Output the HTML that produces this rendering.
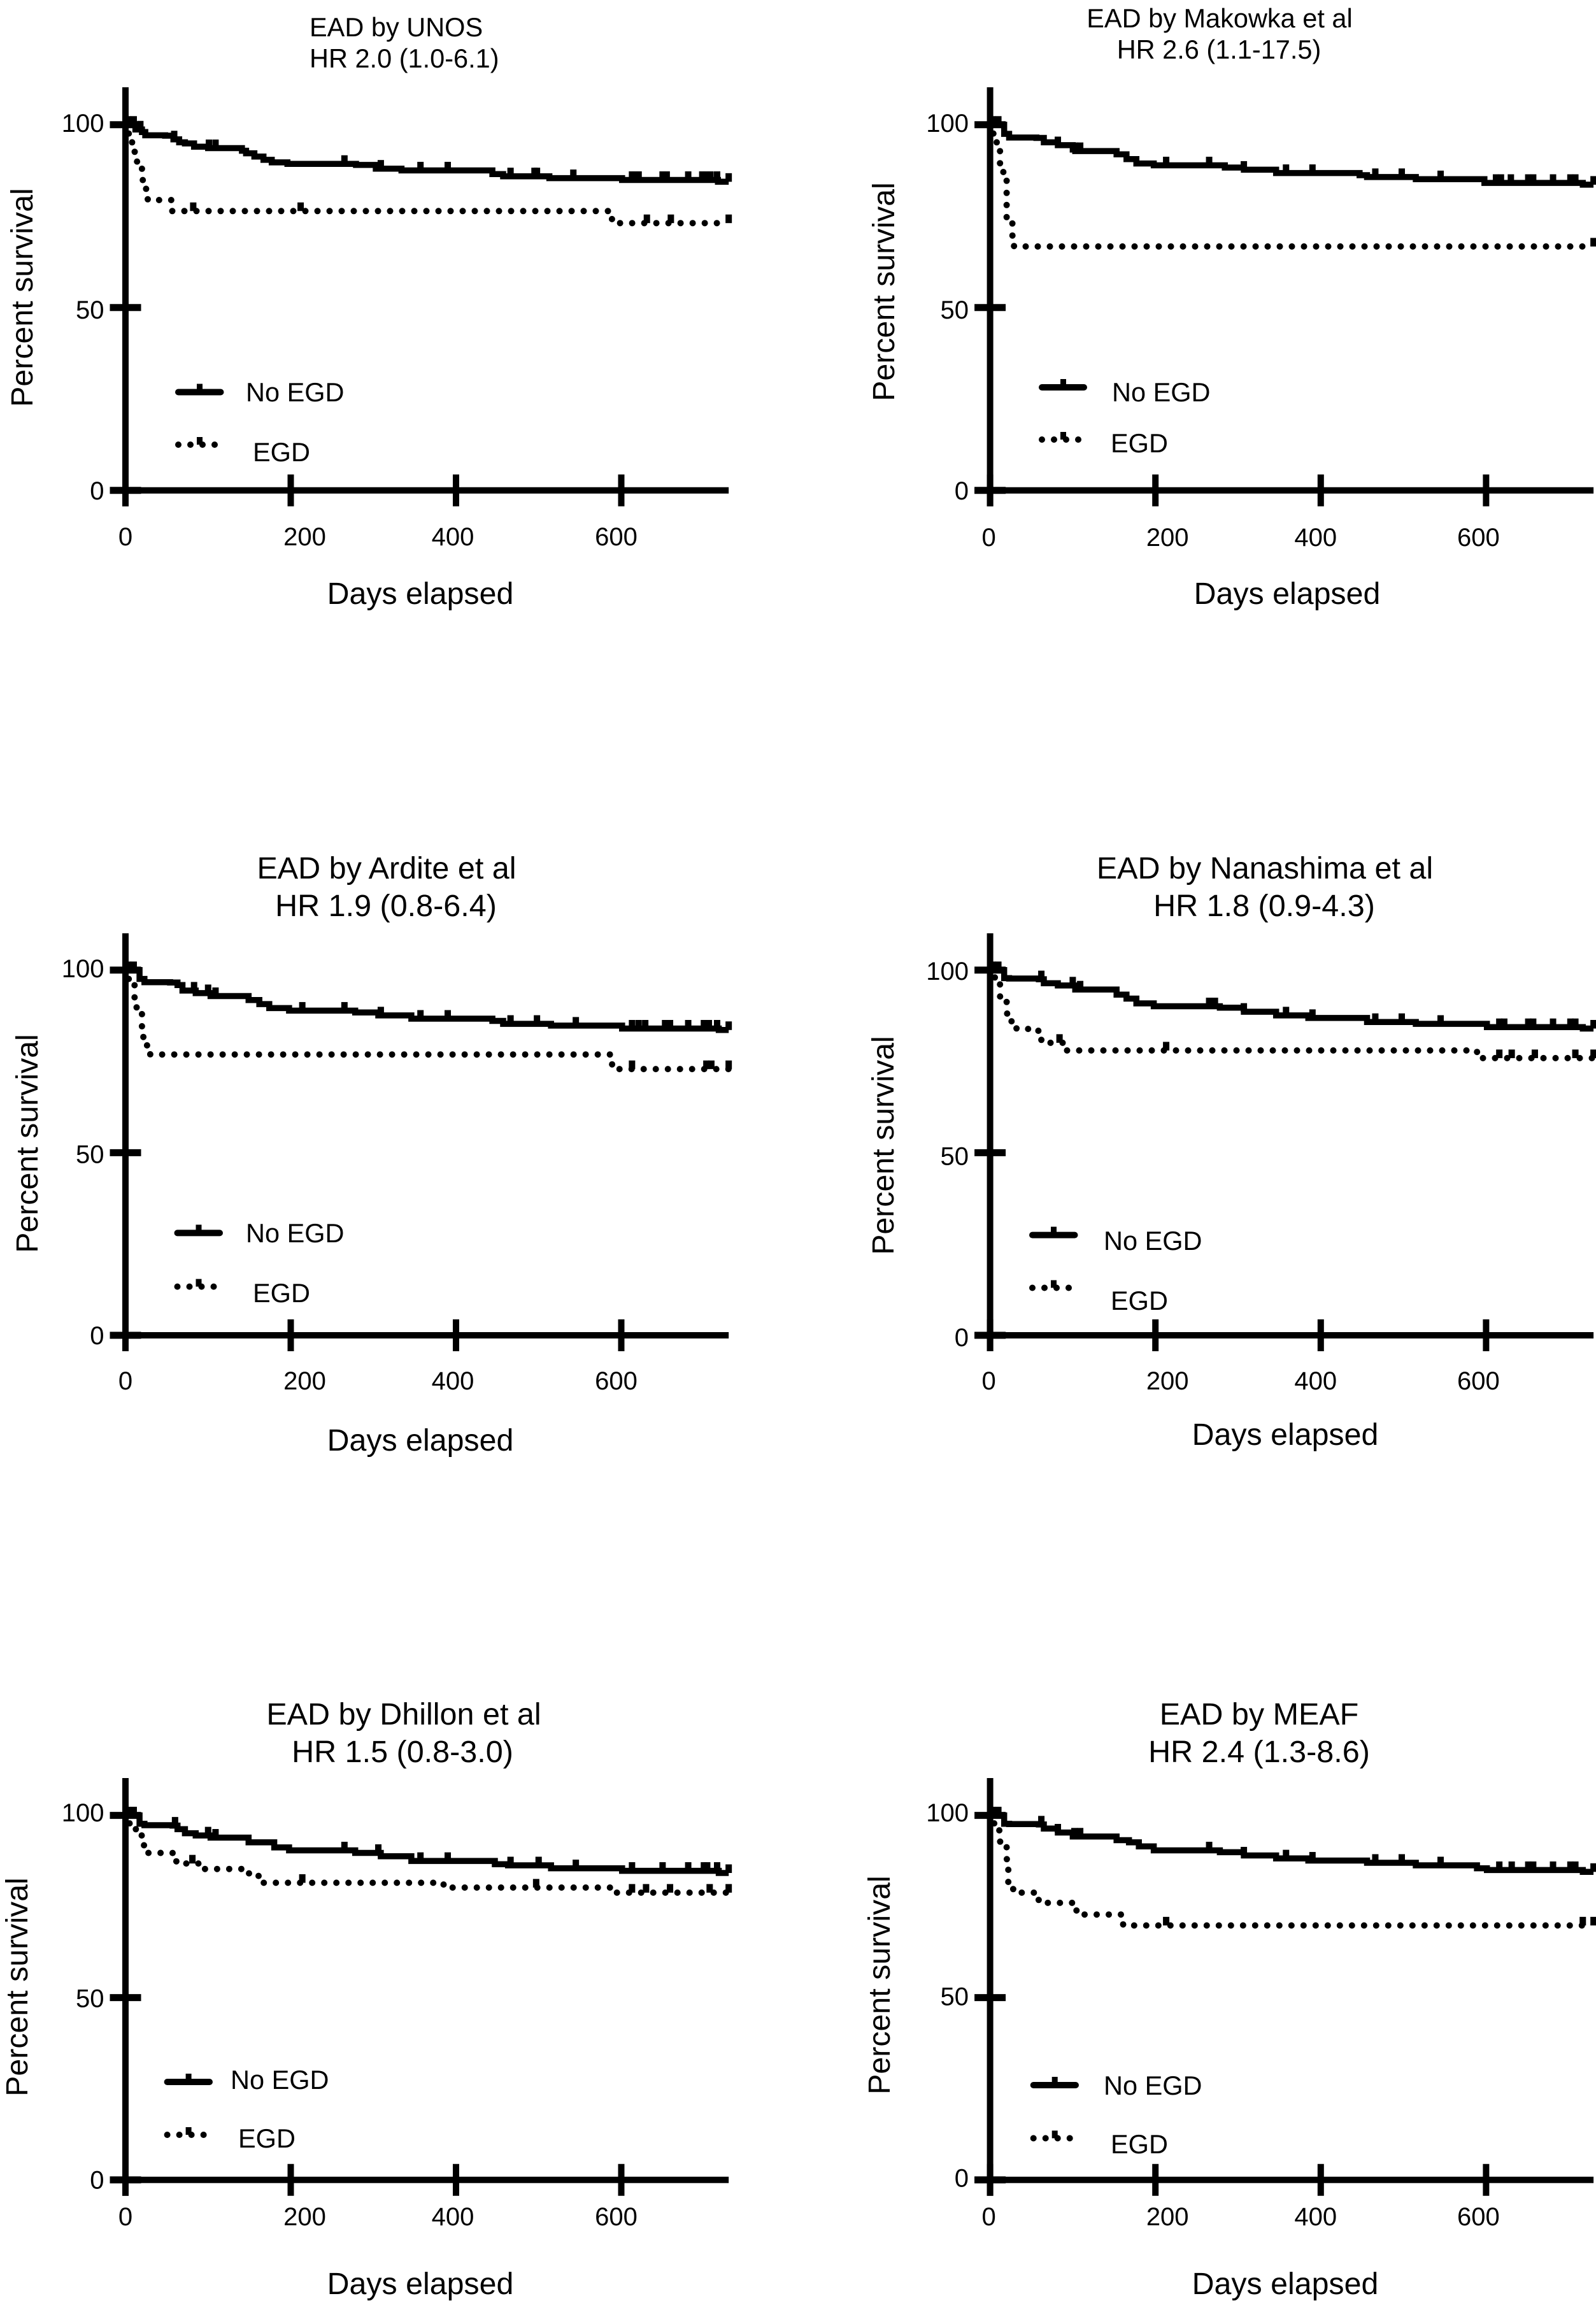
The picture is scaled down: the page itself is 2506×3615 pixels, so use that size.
<!DOCTYPE html>
<html lang="en">
<head>
<meta charset="utf-8">
<title>EAD survival curves by EGD status</title>
<style>
html,body{margin:0;padding:0;background:#fff;}
svg{display:block;}
text{font-family:"Liberation Sans",Arial,sans-serif;fill:#000;}
.title{font-size:48.5px;}
.title-small{font-size:41.5px;}
.axis-title{font-size:48.3px;}
.legend-text{font-size:41.5px;}
.tick-label{font-size:40px;}
</style>
</head>
<body>
<svg id="figure" xmlns="http://www.w3.org/2000/svg" width="2506" height="3615" viewBox="0 0 2506 3615">
  <rect x="0" y="0" width="2506" height="3615" fill="#fff"/>

  <g id="panel-unos">
    <text class="title-small" x="486" y="57">EAD by UNOS</text>
    <text class="title-small" x="486" y="106">HR 2.0 (1.0-6.1)</text>
    <text class="axis-title" text-anchor="middle" transform="translate(51 467) rotate(-90)">Percent survival</text>
    <text class="axis-title" text-anchor="middle" x="660" y="948">Days elapsed</text>
    <text class="legend-text" x="386" y="630">No EGD</text>
    <text class="legend-text" x="397" y="724">EGD</text>
  </g>

  <g id="panel-makowka">
    <text class="title-small" text-anchor="middle" x="1915" y="43">EAD by Makowka et al</text>
    <text class="title-small" text-anchor="middle" x="1914" y="92">HR 2.6 (1.1-17.5)</text>
    <text class="axis-title" text-anchor="middle" transform="translate(1404 458) rotate(-90)">Percent survival</text>
    <text class="axis-title" text-anchor="middle" x="2021" y="948">Days elapsed</text>
    <text class="legend-text" x="1746" y="630">No EGD</text>
    <text class="legend-text" x="1744" y="710">EGD</text>
  </g>

  <g id="panel-ardite">
    <text class="title" text-anchor="middle" x="607" y="1379">EAD by Ardite et al</text>
    <text class="title" text-anchor="middle" x="606" y="1438">HR 1.9 (0.8-6.4)</text>
    <text class="axis-title" text-anchor="middle" transform="translate(59 1795) rotate(-90)">Percent survival</text>
    <text class="axis-title" text-anchor="middle" x="660" y="2277">Days elapsed</text>
    <text class="legend-text" x="386" y="1950">No EGD</text>
    <text class="legend-text" x="397" y="2044">EGD</text>
  </g>

  <g id="panel-nanashima">
    <text class="title" text-anchor="middle" x="1986" y="1379">EAD by Nanashima et al</text>
    <text class="title" text-anchor="middle" x="1985" y="1438">HR 1.8 (0.9-4.3)</text>
    <text class="axis-title" text-anchor="middle" transform="translate(1403 1798) rotate(-90)">Percent survival</text>
    <text class="axis-title" text-anchor="middle" x="2018" y="2268">Days elapsed</text>
    <text class="legend-text" x="1733" y="1962">No EGD</text>
    <text class="legend-text" x="1744" y="2056">EGD</text>
  </g>

  <g id="panel-dhillon">
    <text class="title" text-anchor="middle" x="634" y="2707">EAD by Dhillon et al</text>
    <text class="title" text-anchor="middle" x="632" y="2766">HR 1.5 (0.8-3.0)</text>
    <text class="axis-title" text-anchor="middle" transform="translate(43 3119) rotate(-90)">Percent survival</text>
    <text class="axis-title" text-anchor="middle" x="660" y="3601">Days elapsed</text>
    <text class="legend-text" x="362" y="3279">No EGD</text>
    <text class="legend-text" x="374" y="3371">EGD</text>
  </g>

  <g id="panel-meaf">
    <text class="title" text-anchor="middle" x="1977" y="2707">EAD by MEAF</text>
    <text class="title" text-anchor="middle" x="1977" y="2766">HR 2.4 (1.3-8.6)</text>
    <text class="axis-title" text-anchor="middle" transform="translate(1397 3116) rotate(-90)">Percent survival</text>
    <text class="axis-title" text-anchor="middle" x="2018" y="3601">Days elapsed</text>
    <text class="legend-text" x="1733" y="3288">No EGD</text>
    <text class="legend-text" x="1744" y="3380">EGD</text>
  </g>
</svg>

<script>
/* ---------- shared axis values ---------- */
var xTickValues = [0, 200, 400, 600];
var yTickValues = [0, 50, 100];
var maxDay = 730;

/* ---------- UNOS ---------- */
var unosNoEgdDays = [0,12,20,24,48,58,65,72,83,100,141,146,156,167,177,196,279,303,334,444,457,513,601,717];
var unosNoEgdSurvival = [100,98.7,98,97.1,97,96,95.2,94.9,94,93.6,92.9,92.2,91.3,90.4,89.7,89.3,89,88,87.5,86.5,85.9,85.4,84.9,84.4];
var unosNoEgdCensored = [3,10,18,59,101,109,265,309,357,390,466,495,498,542,613,617,621,650,655,681,698,703,708,716,730];
var unosEgdDays = [0,4,8,11,14,20,21,25,27,56,586,596];
var unosEgdSurvival = [100,97.5,95,92.6,89.3,87.8,84.8,82.4,79.4,76.4,74.2,73.1];
var unosEgdCensored = [82,212,631,660,730];

/* ---------- Makowka ---------- */
var makowkaNoEgdDays = [0,17,23,56,65,82,100,103,153,165,177,198,284,307,346,447,456,515,598,717];
var makowkaNoEgdSurvival = [100,97.5,96.5,96.4,95.2,94.4,93.2,92.8,91.9,90.6,89.4,88.9,88.3,87.7,86.8,86.2,85.7,85.1,84.1,83.6];
var makowkaNoEgdCensored = [3,10,82,103,109,213,265,307,358,390,466,498,545,612,618,630,651,657,681,702,708,730];
var makowkaEgdDays = [0,4,8,12,16,20,27,29];
var makowkaEgdSurvival = [100,97,95,89.3,86.9,74.7,69.7,66.7];
var makowkaEgdCensored = [730];

/* ---------- Ardite ---------- */
var arditeNoEgdDays = [0,17,23,54,63,69,85,103,149,162,174,198,278,306,346,444,457,515,601,718];
var arditeNoEgdSurvival = [100,97.6,96.7,96.6,95.9,94.4,93.7,92.9,91.8,90.7,89.6,88.9,88.4,87.6,86.7,86.1,85.3,84.8,84,83.6];
var arditeNoEgdCensored = [3,10,83,100,109,214,265,309,357,390,466,498,545,613,621,629,653,659,681,700,706,716,730];
var arditeEgdDays = [0,4,8,11,20,26,30,588,596];
var arditeEgdSurvival = [100,97,96,89.8,81.7,79.4,76.9,74.2,72.9];
var arditeEgdCensored = [613,703,709,730];

/* ---------- Nanashima ---------- */
var nanashimaNoEgdDays = [0,17,23,59,65,82,103,153,165,177,198,278,307,346,385,456,515,601,717];
var nanashimaNoEgdSurvival = [100,97.8,97.7,97.5,96.4,95.8,94.7,93.3,92.2,90.9,90.1,89.7,88.6,87.6,86.9,85.8,85.3,84.4,84];
var nanashimaNoEgdCensored = [3,10,62,100,109,265,272,307,358,390,466,498,545,616,622,651,657,681,702,708,730];
var nanashimaEgdDays = [0,4,12,20,26,32,58,62,72,93,585,595];
var nanashimaEgdSurvival = [100,98,92.8,88.1,85.9,83.9,83.4,80.9,80.1,78,77.6,75.9];
var nanashimaEgdCensored = [84,213,616,631,659,708,730];

/* ---------- Dhillon ---------- */
var dhillonNoEgdDays = [0,17,23,57,63,72,85,103,149,180,198,278,309,346,447,463,515,601,718];
var dhillonNoEgdSurvival = [100,97.7,97.3,97.2,96.2,95.1,94.5,93.9,92.6,91.2,90.4,89.7,88.8,87.5,86.6,86.3,85.5,84.8,84.2];
var dhillonNoEgdCensored = [3,10,60,100,109,265,306,357,390,466,500,545,613,650,681,700,704,716,730];
var dhillonEgdDays = [0,5,11,19,21,26,57,70,96,142,150,165,385,590];
var dhillonEgdSurvival = [100,97.5,96.2,94.5,91.8,89.7,87.4,86.8,85.3,84.1,83.4,81.5,80.2,78.8];
var dhillonEgdCensored = [81,214,497,613,630,659,707,730];

/* ---------- MEAF ---------- */
var meafNoEgdDays = [0,17,23,59,65,82,100,153,168,180,198,278,307,346,385,456,515,589,601,717];
var meafNoEgdSurvival = [100,97.7,97.6,97.5,96.4,95.3,94.2,93.2,92.6,91.5,90.4,89.9,89,88.2,87.6,87,86.3,85.5,85,84.5];
var meafNoEgdCensored = [3,10,62,82,102,109,265,307,358,390,466,498,545,616,631,651,657,681,702,708,730];
var meafEgdDays = [0,5,9,12,20,22,28,58,66,100,112,160,170];
var meafEgdSurvival = [100,97,95.9,92.8,88,81.7,78.8,76.8,76,73.9,72.8,70.1,69.8];
var meafEgdCensored = [213,717,730];

/* ---------- page layout (not data) ---------- */
var LEFT_X = {x0:197, pxPerDay:1.2975, xLabelNudge:[0,22,-5,-8], yLabelRight:163.5};
var RIGHT_X = {x0:1554.6, pxPerDay:1.298, xLabelNudge:[-2,19,-8,-12], yLabelRight:1521};

var panels = [
  {id:'panel-unos', cols:LEFT_X, y100:195.8, y0:769.8, top:137, xLabelY:856, yLabelNudge:[0,3,-3],
   legendX:275, legendEnd:351.5, legendSolidY:615.5, legendDotY:698,
   noDays:unosNoEgdDays, noSurv:unosNoEgdSurvival, noCens:unosNoEgdCensored,
   egdDays:unosEgdDays, egdSurv:unosEgdSurvival, egdCens:unosEgdCensored},
  {id:'panel-makowka', cols:RIGHT_X, y100:195.8, y0:769.8, top:137, xLabelY:857, yLabelNudge:[0,3,-3],
   legendX:1631, legendEnd:1707, legendSolidY:608, legendDotY:690,
   noDays:makowkaNoEgdDays, noSurv:makowkaNoEgdSurvival, noCens:makowkaNoEgdCensored,
   egdDays:makowkaEgdDays, egdSurv:makowkaEgdSurvival, egdCens:makowkaEgdCensored},
  {id:'panel-ardite', cols:LEFT_X, y100:1522.8, y0:2096, top:1465, xLabelY:2181, yLabelNudge:[0,2,-3],
   legendX:273.5, legendEnd:350, legendSolidY:1935.4, legendDotY:2019.6,
   noDays:arditeNoEgdDays, noSurv:arditeNoEgdSurvival, noCens:arditeNoEgdCensored,
   egdDays:arditeEgdDays, egdSurv:arditeEgdSurvival, egdCens:arditeEgdCensored},
  {id:'panel-nanashima', cols:RIGHT_X, y100:1522.8, y0:2096, top:1465, xLabelY:2181, yLabelNudge:[3,5,1],
   legendX:1616, legendEnd:1692.5, legendSolidY:1938.6, legendDotY:2021.5,
   noDays:nanashimaNoEgdDays, noSurv:nanashimaNoEgdSurvival, noCens:nanashimaNoEgdCensored,
   egdDays:nanashimaEgdDays, egdSurv:nanashimaEgdSurvival, egdCens:nanashimaEgdCensored},
  {id:'panel-dhillon', cols:LEFT_X, y100:2849.6, y0:3421.7, top:2791, xLabelY:3493, yLabelNudge:[0,1,-4.6],
   legendX:257.6, legendEnd:334, legendSolidY:3268, legendDotY:3351,
   noDays:dhillonNoEgdDays, noSurv:dhillonNoEgdSurvival, noCens:dhillonNoEgdCensored,
   egdDays:dhillonEgdDays, egdSurv:dhillonEgdSurvival, egdCens:dhillonEgdCensored},
  {id:'panel-meaf', cols:RIGHT_X, y100:2849.6, y0:3421.7, top:2791, xLabelY:3493, yLabelNudge:[-3,-2,-4.6],
   legendX:1617.7, legendEnd:1694, legendSolidY:3273, legendDotY:3356.4,
   noDays:meafNoEgdDays, noSurv:meafNoEgdSurvival, noCens:meafNoEgdCensored,
   egdDays:meafEgdDays, egdSurv:meafEgdSurvival, egdCens:meafEgdCensored}
];

var SVG_NS = 'http://www.w3.org/2000/svg';
var AXIS_W = 10, Y_TICK_W = 11, TICK_HALF = 24.5, SERIES_W = 9.5, DOT_W = 10, CENSOR_W = 10, CENSOR_H = 13.5;

function shape(parent, tag, attrs) {
  var el = document.createElementNS(SVG_NS, tag);
  Object.keys(attrs).forEach(function (k) { el.setAttribute(k, attrs[k]); });
  parent.appendChild(el);
  return el;
}

function survivalAt(days, surv, day) {
  var value = surv[0];
  for (var i = 0; i < days.length; i++) { if (days[i] <= day) value = surv[i]; }
  return value;
}

function drawPanel(p) {
  var group = document.getElementById(p.id);
  var xScale = function (d) { return p.cols.x0 + d * p.cols.pxPerDay; };
  var yScale = function (s) { return p.y0 - s * (p.y0 - p.y100) / 100; };

  function stepPath(days, surv) {
    var d = 'M' + xScale(days[0]).toFixed(1) + ' ' + yScale(surv[0]).toFixed(1);
    for (var i = 1; i < days.length; i++) {
      d += 'H' + xScale(days[i]).toFixed(1) + 'V' + yScale(surv[i]).toFixed(1);
    }
    return d + 'H' + xScale(maxDay).toFixed(1);
  }

  /* axes */
  var yAxis = shape(group, 'line', {x1:p.cols.x0, x2:p.cols.x0, y1:p.top, y2:p.y0 + 25, stroke:'#000', 'stroke-width':AXIS_W});
  
  
  var xAxis = shape(group, 'line', {x1:p.cols.x0 - TICK_HALF, x2:xScale(maxDay), y1:p.y0, y2:p.y0, stroke:'#000', 'stroke-width':AXIS_W});
  
  

  yTickValues.forEach(function (v, i) {
    var tick = shape(group, 'line', {x1:p.cols.x0 - TICK_HALF, x2:p.cols.x0 + TICK_HALF, y1:yScale(v), y2:yScale(v), stroke:'#000', 'stroke-width':Y_TICK_W});
    
    
    var label = shape(group, 'text', {'class':'tick-label', 'text-anchor':'end', x:p.cols.yLabelRight, y:yScale(v) + p.yLabelNudge[i] + 14});
    
    
    label.textContent = String(v);
  });

  xTickValues.forEach(function (v, i) {
    var tick = shape(group, 'line', {x1:xScale(v), x2:xScale(v), y1:p.y0 - 25, y2:p.y0 + 25, stroke:'#000', 'stroke-width':AXIS_W});
    
    
    var label = shape(group, 'text', {'class':'tick-label', 'text-anchor':'middle', x:xScale(v) + p.cols.xLabelNudge[i], y:p.xLabelY});
    
    
    label.textContent = String(v);
  });

  /* EGD series (dotted) */
  var egdLine = shape(group, 'path', {d:stepPath(p.egdDays, p.egdSurv), fill:'none', stroke:'#000', 'stroke-width':DOT_W, 'stroke-linecap':'round', 'stroke-dasharray':'0.01 18.99'});
  
  
  p.egdCens.forEach(function (day) {
    var y = yScale(survivalAt(p.egdDays, p.egdSurv, day));
    var mark = shape(group, 'rect', {x:xScale(day) - CENSOR_W / 2, y:y - CENSOR_H, width:CENSOR_W, height:CENSOR_H, fill:'#000'});
    
    
  });

  /* No EGD series (solid) */
  var noLine = shape(group, 'path', {d:stepPath(p.noDays, p.noSurv), fill:'none', stroke:'#000', 'stroke-width':SERIES_W, 'stroke-linejoin':'miter'});
  
  
  p.noCens.forEach(function (day) {
    var y = yScale(survivalAt(p.noDays, p.noSurv, day));
    var mark = shape(group, 'rect', {x:xScale(day) - CENSOR_W / 2, y:y - CENSOR_H, width:CENSOR_W, height:CENSOR_H, fill:'#000'});
    
    
  });

  /* legend glyphs */
  var solidKey = shape(group, 'line', {x1:p.legendX + 5, x2:p.legendEnd - 5, y1:p.legendSolidY, y2:p.legendSolidY, stroke:'#000', 'stroke-width':10, 'stroke-linecap':'round'});
  
  
  var solidTick = shape(group, 'rect', {x:p.legendX + 34, y:p.legendSolidY - 13, width:9, height:13, fill:'#000'});
  
  
  var dotKey = shape(group, 'line', {x1:p.legendX + 5, x2:p.legendX + 63, y1:p.legendDotY, y2:p.legendDotY, stroke:'#000', 'stroke-width':DOT_W, 'stroke-linecap':'round', 'stroke-dasharray':'0.01 18.99'});
  
  
  var dotTick = shape(group, 'rect', {x:p.legendX + 34, y:p.legendDotY - 12, width:9, height:12, fill:'#000'});
  
  
}

panels.forEach(drawPanel);
</script>
</body>
</html>
